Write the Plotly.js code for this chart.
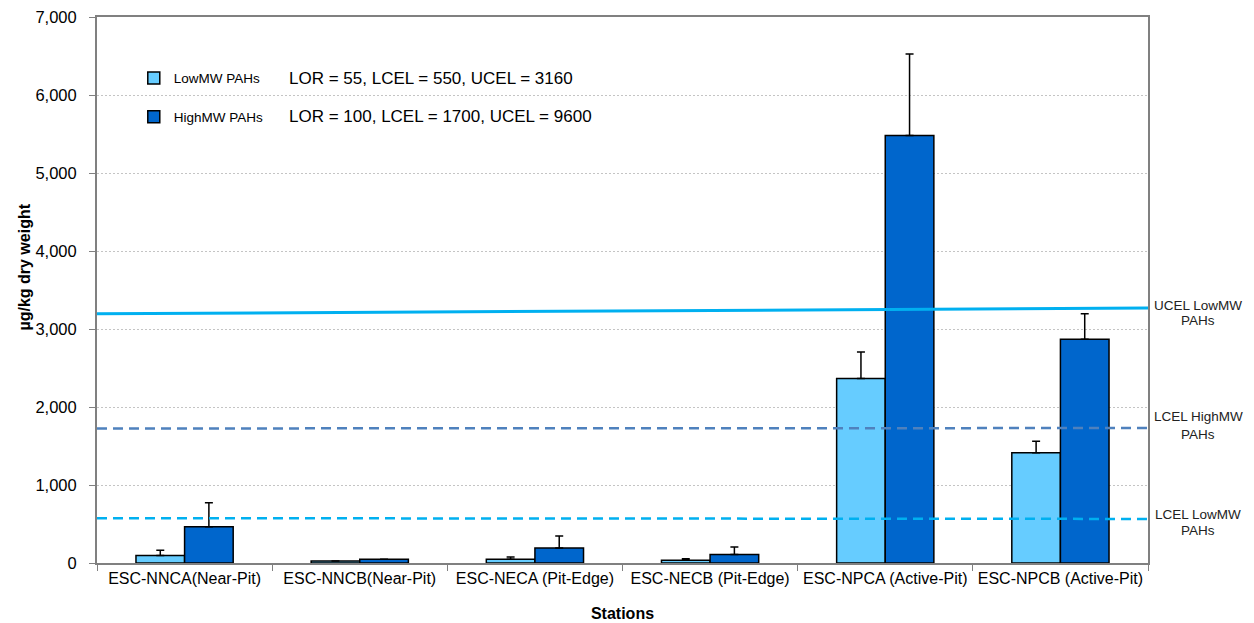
<!DOCTYPE html>
<html>
<head>
<meta charset="utf-8">
<script src="https://cdn.plot.ly/plotly-3.0.1.min.js"></script>
<style>
html,body{margin:0;padding:0;background:#fff;}
#chart{width:1254px;height:623px;}
</style>
</head>
<body>
<div id="chart"></div>
<script>
// ---- data ----
const stations = ["ESC-NNCA(Near-Pit)", "ESC-NNCB(Near-Pit)", "ESC-NECA (Pit-Edge)", "ESC-NECB (Pit-Edge)", "ESC-NPCA (Active-Pit)", "ESC-NPCB (Active-Pit)"];
const lowMW = [95, 27, 47, 35, 2366, 1415];
const lowMWErr = [70, null, 30, 20, 340, 145];
const highMW = [465, 47, 192, 108, 5480, 2870];
const highMWErr = [308, null, 155, 97, 1045, 325];

// guideline lines (values at left and right edge of the plot)
const lineX = [0, 1];
const ucelLow = [3195, 3268];
const lcelHigh = [1725, 1730];
const lcelLow = [575, 565];

const seriesNames = ["LowMW PAHs", "HighMW PAHs"];
const lorTexts = ["LOR = 55, LCEL = 550, UCEL = 3160", "LOR = 100, LCEL = 1700, UCEL = 9600"];
const lineLabelLines = ["UCEL LowMW", "PAHs", "LCEL HighMW", "PAHs", "LCEL LowMW", "PAHs"];
const lineLabelY = [3299, 3106, 1876, 1645, 619, 414];
const yTitle = "µg/kg dry weight";
const xTitle = "Stations";

const FONT = "Liberation Sans, Arial, sans-serif";
const zeros = stations.map(() => 0);

const traces = [
  {
    type: "bar", name: seriesNames[0], x: stations, y: lowMW,
    marker: {color: "#66CCFF", line: {color: "#000", width: 1.5}},
    error_y: {type: "data", symmetric: false, array: lowMWErr, arrayminus: zeros, color: "#000", thickness: 1.5, width: 4},
    legend: "legend"
  },
  {
    type: "bar", name: seriesNames[1], x: stations, y: highMW,
    marker: {color: "#0066CC", line: {color: "#000", width: 1.5}},
    error_y: {type: "data", symmetric: false, array: highMWErr, arrayminus: zeros, color: "#000", thickness: 1.5, width: 4},
    legend: "legend2"
  },
  {
    type: "scatter", mode: "lines", x: lineX, y: ucelLow, xaxis: "x2", yaxis: "y",
    line: {color: "#00B0F0", width: 3}, showlegend: false, hoverinfo: "skip"
  },
  {
    type: "scatter", mode: "lines", x: lineX, y: lcelHigh, xaxis: "x2", yaxis: "y",
    line: {color: "#4F81BD", width: 2.5, dash: "10px,6px"}, showlegend: false, hoverinfo: "skip"
  },
  {
    type: "scatter", mode: "lines", x: lineX, y: lcelLow, xaxis: "x2", yaxis: "y",
    line: {color: "#00B0F0", width: 2.5, dash: "10px,6px"}, showlegend: false, hoverinfo: "skip"
  }
];

const annotations = [];
lorTexts.forEach((t, i) => {
  annotations.push({
    text: t, xref: "paper", yref: "paper", x: 0.181, y: [0.888, 0.817][i],
    xanchor: "left", yanchor: "middle", showarrow: false,
    font: {family: FONT, size: 17, color: "#000"}
  });
});
lineLabelLines.forEach((t, i) => {
  annotations.push({
    text: t, xref: "paper", yref: "y", x: 1.0476, y: lineLabelY[i],
    xanchor: "center", yanchor: "middle", showarrow: false, align: "center",
    font: {family: FONT, size: 13.5, color: "#222"}
  });
});
// y axis title placed as rotated annotation
annotations.push({
  text: "<b>" + yTitle + "</b>", xref: "paper", yref: "paper", x: -0.069, y: 0.542,
  xanchor: "center", yanchor: "middle", textangle: -90, showarrow: false,
  font: {family: FONT, size: 16, color: "#000"}
});

const layout = {
  width: 1254, height: 623,
  margin: {l: 97, r: 106, t: 17, b: 60},
  paper_bgcolor: "#fff", plot_bgcolor: "#fff",
  font: {family: FONT, color: "#000"},
  barmode: "group", bargap: 0.445, bargroupgap: 0,
  xaxis: {
    type: "category", tickson: "boundaries", ticks: "outside", ticklen: 6, tickcolor: "#808080",
    showline: true, linecolor: "#808080", linewidth: 2, mirror: true,
    tickfont: {family: FONT, size: 16, color: "#000"},
    title: {text: "<b>" + xTitle + "</b>", font: {family: FONT, size: 16, color: "#000"}, standoff: 22},
    showgrid: false, zeroline: false, automargin: false
  },
  xaxis2: {overlaying: "x", anchor: "y", range: [0, 1], visible: false, fixedrange: true},
  yaxis: {
    range: [0, 7000], dtick: 1000, tickformat: ",", ticks: "outside", ticklen: 6, tickcolor: "#808080",
    showline: true, linecolor: "#808080", linewidth: 2, mirror: true,
    showgrid: true, gridcolor: "#c4c4c4", griddash: "2px,2px", gridwidth: 1, zeroline: false,
    tickfont: {family: FONT, size: 16.5, color: "#000"}, ticklabelstandoff: 9,
    automargin: false
  },
  legend: {
    x: 0.035, y: 0.888, xanchor: "left", yanchor: "middle", bgcolor: "rgba(0,0,0,0)",
    font: {family: FONT, size: 13.5, color: "#000"}, itemwidth: 30
  },
  legend2: {
    x: 0.035, y: 0.817, xanchor: "left", yanchor: "middle", bgcolor: "rgba(0,0,0,0)",
    font: {family: FONT, size: 13.5, color: "#000"}, itemwidth: 30
  },
  annotations: annotations,
  showlegend: true
};

Plotly.newPlot("chart", traces, layout, {displayModeBar: false, staticPlot: true});
</script>
</body>
</html>
